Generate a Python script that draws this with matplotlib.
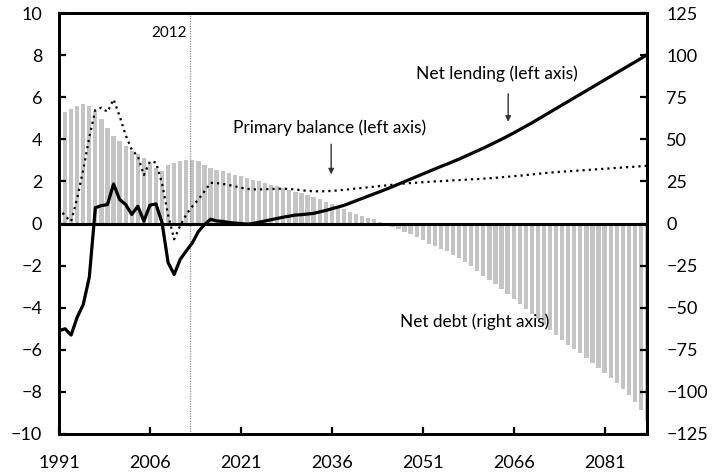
import numpy as np
import matplotlib
matplotlib.use('Agg')
import matplotlib.pyplot as plt

plt.rcParams['font.family'] = ['Lato', 'DejaVu Sans']

years = np.arange(1991, 2089)

# net debt, % of GDP (right axis)
net_debt = [62, 66, 68, 70, 71, 70, 67, 62, 57, 52,
            49, 46, 43, 41, 39, 36, 33, 31, 35, 36,
            37, 38, 38, 37, 35, 33, 32, 31, 30, 29,
            28, 27, 26, 25, 24, 23, 22, 21, 20, 19,
            18, 17, 16, 14.5, 13, 11.5, 10, 8.5, 7, 5.5,
            4.5, 3.5, 2.5, 1, -0.5, -2, -3.5, -5, -6.5, -8,
            -10, -12, -13.5, -15, -16.5, -18.5, -20.5, -23, -25.5, -28,
            -31, -33.5, -36, -39, -42, -45, -48, -51, -54, -57,
            -60, -63, -66, -69, -72, -74.5, -77, -80, -83, -86,
            -89, -92, -95, -98, -102, -106, -111, -117]

# net lending, % of GDP (left axis)
net_lending = [-5.1, -5.0, -5.3, -4.45, -3.85, -2.55, 0.75, 0.85, 0.9, 1.88,
               1.14, 0.9, 0.43, 0.82, 0.11, 0.87, 0.93, 0.03, -1.86, -2.42,
               -1.7, -1.3, -0.92, -0.38, -0.05, 0.2, 0.12, 0.1, 0.05, 0.02,
               0.0, -0.03, 0.0, 0.06, 0.12, 0.18, 0.24, 0.3, 0.35, 0.4,
               0.42, 0.45, 0.48, 0.55, 0.62, 0.7, 0.78, 0.86, 0.97, 1.08,
               1.19, 1.3, 1.41, 1.52, 1.63, 1.75, 1.87, 1.99, 2.11, 2.23,
               2.35, 2.47, 2.59, 2.71, 2.82, 2.94, 3.06, 3.19, 3.32, 3.45,
               3.58, 3.72, 3.86, 4.0, 4.15, 4.3, 4.46, 4.62, 4.78, 4.95,
               5.12, 5.29, 5.46, 5.63, 5.8, 5.97, 6.14, 6.31, 6.48, 6.65,
               6.82, 6.99, 7.16, 7.33, 7.5, 7.67, 7.84, 8.02]

# primary balance, % of GDP (left axis)
primary_balance = [0.75, 0.35, 0.1, 1.2, 2.55, 4.1, 5.4, 5.5, 5.3, 5.9,
                   5.1, 4.2, 3.5, 3.2, 2.3, 2.95, 2.9, 1.9, 0.4, -0.75,
                   -0.1, 0.43, 0.82, 1.14, 1.53, 1.93, 1.92, 1.88, 1.83, 1.77,
                   1.7, 1.65, 1.62, 1.62, 1.63, 1.64, 1.65, 1.65, 1.64, 1.62,
                   1.58, 1.55, 1.53, 1.53, 1.53, 1.55, 1.57, 1.6, 1.63, 1.66,
                   1.69, 1.72, 1.75, 1.78, 1.81, 1.84, 1.87, 1.9, 1.92, 1.94,
                   1.96, 1.98, 2.0, 2.01, 2.03, 2.05, 2.06, 2.08, 2.1, 2.11,
                   2.13, 2.15, 2.17, 2.2, 2.22, 2.25, 2.27, 2.3, 2.33, 2.36,
                   2.39, 2.42, 2.44, 2.46, 2.48, 2.5, 2.52, 2.54, 2.56, 2.58,
                   2.6, 2.62, 2.64, 2.66, 2.68, 2.7, 2.72, 2.74]

xticks = [1991, 2006, 2021, 2036, 2051, 2066, 2081]
left_ticks = np.arange(-10, 11, 2)
right_ticks = np.arange(-125, 126, 25)

fig = plt.figure(figsize=(7.12, 4.74), dpi=100)
ax = fig.add_axes([59/712, 1 - 434/474, 588/712, 421/474])
ax2 = ax.twinx()

# bars on the right axis, lines drawn above them
ax2.bar(years, net_debt, width=0.7, color='#c4c4c4', linewidth=0)
ax.set_zorder(ax2.get_zorder() + 1)
ax.patch.set_visible(False)

ax.axhline(0, color='black', linewidth=2.2, zorder=2)
ax.axvline(2012.6, color='#8c8c8c', linewidth=0.9, linestyle=(0, (1, 1)), zorder=1)
ax.plot(years, primary_balance, color='black', linewidth=1.6,
        linestyle=(0, (1, 1.8)), zorder=3)
ax.plot(years, net_lending, color='black', linewidth=2.3, zorder=4)

ax.set_xlim(1991, 2088)
ax.set_ylim(-10, 10)
ax2.set_ylim(-125, 125)
ax.set_xticks(xticks)
ax.set_yticks(left_ticks)
ax2.set_yticks(right_ticks)

ax.tick_params(axis='both', direction='in', length=5, width=1.6, labelsize=13, pad=12)
ax.tick_params(axis='x', pad=15)
ax2.tick_params(axis='y', direction='in', length=5, width=1.6, labelsize=13, pad=14)
for a in (ax, ax2):
    for s in a.spines.values():
        s.set_linewidth(2)
        s.set_color('black')

ax.text(2012.1, 9.05, '2012', ha='right', va='center', fontsize=11)

ax.text(2063.3, 7.1, 'Net lending (left axis)', ha='center', va='center', fontsize=12.5)
ax.annotate('', xy=(2065.1, 4.7), xytext=(2065.1, 6.3),
            arrowprops=dict(arrowstyle='-|>', color='#333333', lw=1, mutation_scale=8))

ax.text(2035.7, 4.55, 'Primary balance (left axis)', ha='center', va='center', fontsize=12.4)
ax.annotate('', xy=(2035.9, 2.2), xytext=(2035.9, 3.9),
            arrowprops=dict(arrowstyle='-|>', color='#333333', lw=1, mutation_scale=8))

ax.text(2059.6, -4.65, 'Net debt (right axis)', ha='center', va='center', fontsize=12.4)

fig.savefig('out.png', dpi=100)
